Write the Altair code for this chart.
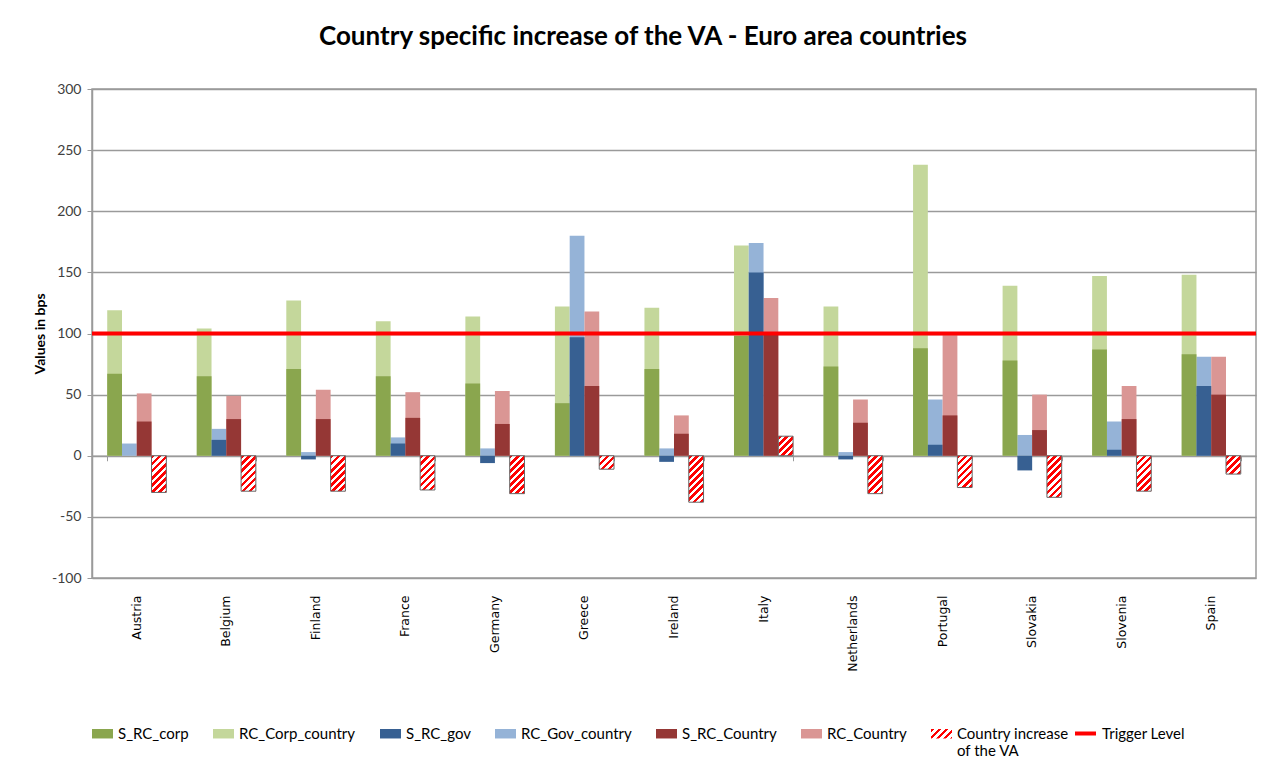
import math
import altair as alt
import pandas as pd

# ---------------- data ----------------
countries = ["Austria", "Belgium", "Finland", "France", "Germany", "Greece", "Ireland",
             "Italy", "Netherlands", "Portugal", "Slovakia", "Slovenia", "Spain"]
s_rc_corp = [67, 65, 71, 65, 59, 43, 71, 98, 73, 88, 78, 87, 83]
rc_corp_country = [119, 104, 127, 110, 114, 122, 121, 172, 122, 238, 139, 147, 148]
s_rc_gov = [0, 13, -3, 10, -6, 97, -5, 150, -3, 9, -12, 5, 57]
rc_gov_country = [10, 22, 3, 15, 6, 180, 6, 174, 3, 46, 17, 28, 81]
s_rc_country = [28, 30, 30, 31, 26, 57, 18, 99, 27, 33, 21, 30, 50]
rc_country = [51, 49, 54, 52, 53, 118, 33, 129, 46, 100, 50, 57, 81]
va_increase = [-30, -29, -29, -28, -31, -11, -38, 16, -31, -26, -34, -29, -15]
trigger_level = [100]

y_ticks = [-100, -50, 0, 50, 100, 150, 200, 250, 300]
slots = ["corp", "gov", "country", "va"]
bar_series = ["S_RC_corp", "RC_Corp_country", "S_RC_gov", "RC_Gov_country",
              "S_RC_Country", "RC_Country", "Country increase of the VA"]
bar_colors = ["#8AA64E", "#C4D79B", "#376092", "#95B3D7", "#953735", "#DA9694"]

# ---------------- layout / style ----------------
PLOT_W, PLOT_H = 1164, 489
Y_MIN, Y_MAX = -100, 300
PX = PLOT_H / (Y_MAX - Y_MIN)
PAD_IN = 0.34
SLOT_W = PLOT_W / len(countries) * (1 - PAD_IN) / len(slots)
GRID = "#9a9a9a"

# hatch ("///") as a striped linear gradient
N_PER = 20
D = 100.0  # pixel length of the full gradient (period = D / N_PER)
stops = []
for i in range(N_PER):
    a, b, c = i / N_PER, (i + 0.5) / N_PER, (i + 1) / N_PER
    stops += [(a, "#ff0000"), (b, "#ff0000"), (b, "#ffffff"), (c, "#ffffff")]
stops_js = "[" + ",".join("{offset:%.4f,color:'%s'}" % (o, col) for o, col in stops) + "]"
K = math.sqrt(2) * D


def grad_expr(w, h):
    den = f"({w}*{w}+{h}*{h})"
    return (f"{{gradient:'linear',x1:0,y1:0,x2:{K:.3f}*{w}/{den},"
            f"y2:{K:.3f}*{h}/{den},stops:{stops_js}}}")


hatch_bar_expr = grad_expr(f"{SLOT_W:.3f}", f"max(1,abs(datum.value)*{PX:.5f})")
hatch_legend_expr = grad_expr("21", "9.45")

# ---------------- tables ----------------
rows = []
for name, vals, slot in [("RC_Corp_country", rc_corp_country, "corp"),
                         ("RC_Gov_country", rc_gov_country, "gov"),
                         ("RC_Country", rc_country, "country"),
                         ("S_RC_corp", s_rc_corp, "corp"),
                         ("S_RC_gov", s_rc_gov, "gov"),
                         ("S_RC_Country", s_rc_country, "country")]:
    for c, v in zip(countries, vals):
        rows.append({"country": c, "slot": slot, "series": name, "value": v})
bars_df = pd.DataFrame(rows)
va_df = pd.DataFrame({"country": countries, "slot": ["va"] * len(countries),
                      "value": va_increase})
trig_df = pd.DataFrame({"name": ["Trigger Level"], "value": trigger_level})

x_scale = alt.Scale(paddingInner=PAD_IN, paddingOuter=PAD_IN / 2)
xoff = alt.XOffset("slot:N", sort=slots,
                   scale=alt.Scale(domain=slots, paddingInner=0, paddingOuter=0))
y_scale = alt.Scale(domain=[Y_MIN, Y_MAX], nice=False, zero=False)

y_axis = alt.Axis(values=y_ticks, grid=True, gridColor=GRID, gridWidth=1.5,
                  domainColor=GRID, domainWidth=1.5, tickColor=GRID, tickSize=5,
                  labelPadding=6, labelFont="Lato", labelFontSize=14, labelColor="#404040",
                  labelExpr="'' + datum.value",
                  title="Values in bps", titleFont="Lato", titleFontSize=14,
                  titleFontWeight="bold", titleColor="#000000", titleAngle=270,
                  titleX=-52, titleY=PLOT_H / 2, titleAlign="center",
                  titleBaseline="middle")

LEG_Y = 634
legend_common = dict(title=None, labelFont="Lato", labelFontSize=15,
                     labelColor="#000000", labelLimit=300)

main_bars = alt.Chart(bars_df).mark_bar().encode(
    x=alt.X("country:N", sort=countries, scale=x_scale,
            axis=alt.Axis(title=None, ticks=False, domain=False, grid=False,
                          labelAngle=270, labelAlign="right", labelBaseline="middle",
                          labelFont="DejaVu Sans", labelFontSize=12.5,
                          labelColor="#000000", labelPadding=17)),
    xOffset=xoff,
    y=alt.Y("value:Q", scale=y_scale, stack=None, axis=y_axis),
    fill=alt.Fill("series:N",
                  scale=alt.Scale(domain=bar_series,
                                  range=bar_colors + [alt.ExprRef(hatch_legend_expr)]),
                  legend=alt.Legend(orient="none", legendX=0, legendY=LEG_Y,
                                    direction="horizontal",
                                    symbolType="M-1,-0.45H1V0.45H-1Z", symbolSize=441,
                                    symbolStrokeWidth=0, labelOffset=5, columnPadding=24,
                                    labelExpr="datum.label == 'Country increase of the VA' ? ['Country increase', 'of the VA'] : [datum.label, ' ']",
                                    **legend_common)),
)

hatch_bars = alt.Chart(va_df).transform_calculate(
    grad=hatch_bar_expr
).mark_bar(stroke="#666666", strokeWidth=1).encode(
    x=alt.X("country:N", sort=countries, scale=x_scale,
            axis=alt.Axis(orient="bottom", offset=-(0 - Y_MIN) * PX, labels=False,
                          ticks=True, tickBand="extent", tickSize=5, tickColor=GRID,
                          domain=True, domainColor=GRID, domainWidth=1.5,
                          title=None, grid=False)),
    xOffset=xoff,
    y=alt.Y("value:Q", scale=y_scale, stack=None),
    fill=alt.Fill("grad:N", scale=None, legend=None),
)

trigger = alt.Chart(trig_df).mark_rule(strokeWidth=4).encode(
    y=alt.Y("value:Q", scale=y_scale),
    stroke=alt.Stroke("name:N", scale=alt.Scale(domain=["Trigger Level"], range=["#FF0000"]),
                      legend=alt.Legend(orient="none", legendX=981, legendY=LEG_Y - 2,
                                        symbolType="stroke", symbolSize=441,
                                        symbolStrokeWidth=4, labelOffset=4,
                                        labelExpr="[datum.label, ' ']",
                                        **legend_common)),
)

chart = alt.layer(main_bars, hatch_bars, trigger).resolve_scale(
    fill="independent"
).resolve_axis(x="independent").properties(
    width=PLOT_W, height=PLOT_H,
    autosize=alt.AutoSizeParams(type="none"),
    padding={"left": 84, "top": 81, "right": 15, "bottom": 182},
    title=alt.TitleParams(text="Country specific increase of the VA - Euro area countries",
                          font="Lato", fontSize=26, fontWeight="bold", color="#000000",
                          anchor="middle", frame="group", offset=11,
                          baseline="alphabetic", dx=-31),
).configure_view(stroke=GRID, strokeWidth=1.5)

chart.save("out.html", embed_options={"renderer": "svg", "actions": False})
